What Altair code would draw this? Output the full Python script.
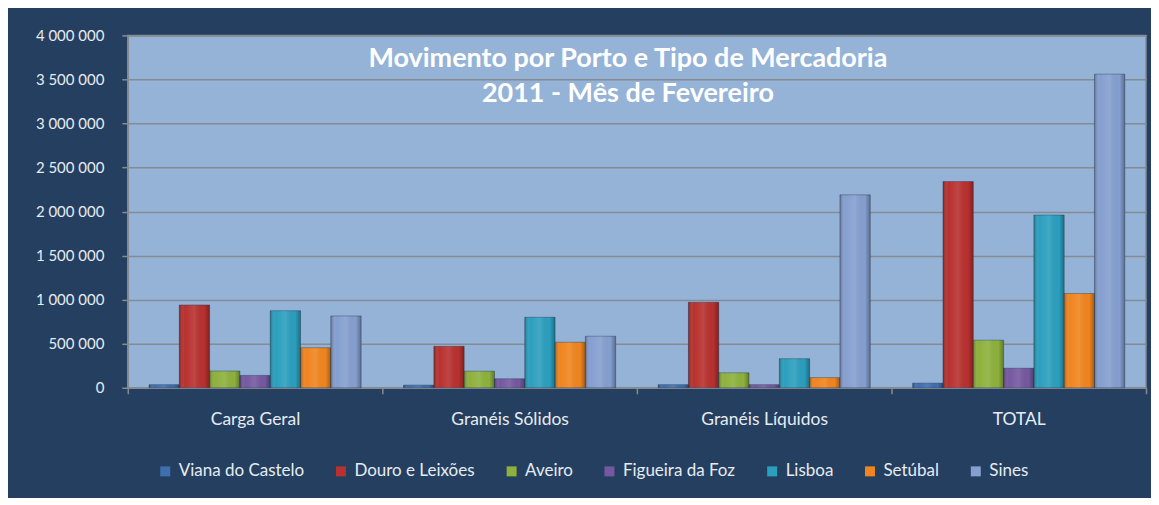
import altair as alt
import pandas as pd

categories = ["Carga Geral", "Granéis Sólidos", "Granéis Líquidos", "TOTAL"]
ports = ["Viana do Castelo", "Douro e Leixões", "Aveiro", "Figueira da Foz",
         "Lisboa", "Setúbal", "Sines"]
viana = [35000, 30000, 35000, 52000]
douro = [940000, 470000, 970000, 2340000]
aveiro = [190000, 188000, 170000, 540000]
figueira = [140000, 102000, 35000, 222000]
lisboa = [875000, 800000, 330000, 1960000]
setubal = [455000, 517000, 115000, 1070000]
sines = [815000, 585000, 2190000, 3560000]
colors = ["#3f6fae", "#b8312f", "#8db13c", "#7558a0", "#2b9fbe", "#f0851f", "#859fcf"]
y_ticks = [0, 500000, 1000000, 1500000, 2000000, 2500000, 3000000, 3500000, 4000000]
title_lines = ["Movimento por Porto e Tipo de Mercadoria", "2011 - Mês de Fevereiro"]

series = [viana, douro, aveiro, figueira, lisboa, setubal, sines]
rows = []
for p, vals in zip(ports, series):
    for c, v in zip(categories, vals):
        rows.append({"Categoria": c, "Porto": p, "Valor": v})
df = pd.DataFrame(rows)

FONT = "Lato"
LABEL = "#e6ecf2"
GRID = "#858b92"

x_enc = alt.X("Categoria:N", sort=categories, title=None,
              scale=alt.Scale(paddingInner=0, paddingOuter=0),
              axis=alt.Axis(labelAngle=0, labelColor=LABEL, labelFont=FONT, labelFontSize=17.5,
                            labelPadding=17, tickBand="extent", tickColor=GRID, tickSize=6,
                            domainColor=GRID, domainWidth=1.5, tickWidth=1.5, grid=False))
xo_enc = alt.XOffset("Porto:N", sort=ports,
                     scale=alt.Scale(domain=ports, paddingInner=0, paddingOuter=0.7))
y_enc = alt.Y("Valor:Q", title=None,
              scale=alt.Scale(domain=[0, 4000000], nice=False),
              axis=alt.Axis(values=y_ticks, labelColor=LABEL, labelFont=FONT, labelFontSize=15,
                            labelPadding=18, tickColor=GRID, tickSize=6, tickWidth=1.5,
                            domainColor=GRID, domainWidth=1.5, gridColor=GRID, gridWidth=1.5,
                            labelExpr="replace(format(datum.value, ',d'), /,/g, ' ')"))

base = alt.Chart(df).mark_bar(
    stroke="#1f3450", strokeOpacity=0.4, strokeWidth=1
).encode(
    x=x_enc, xOffset=xo_enc, y=y_enc,
    color=alt.Color("Porto:N", sort=ports,
                    scale=alt.Scale(domain=ports, range=colors),
                    legend=alt.Legend(title=None, orient="none", direction="horizontal",
                                      legendX=29, legendY=428, columnPadding=28,
                                      symbolType="square", symbolSize=100, symbolStrokeWidth=0,
                                      labelColor=LABEL, labelFont=FONT, labelFontSize=17,
                                      labelOffset=5, padding=0)),
)

shade = alt.Chart(df).mark_bar(
    fill=alt.Gradient(
        gradient="linear", x1=0, x2=1, y1=0, y2=0,
        stops=[alt.GradientStop(offset=0, color="rgba(0,0,0,0.28)"),
               alt.GradientStop(offset=0.18, color="rgba(255,255,255,0.0)"),
               alt.GradientStop(offset=0.5, color="rgba(255,255,255,0.10)"),
               alt.GradientStop(offset=0.82, color="rgba(0,0,0,0.0)"),
               alt.GradientStop(offset=1, color="rgba(0,0,0,0.30)")]),
).encode(x=x_enc, xOffset=xo_enc, y=y_enc)

chart = alt.layer(base, shade).properties(
    width=1020,
    height=353,
    padding={"left": 120, "top": 27, "right": 5, "bottom": 110},
    autosize=alt.AutoSizeParams(type="none"),
    title=alt.TitleParams(text=title_lines, color="white", font=FONT, fontSize=27,
                          fontWeight="bold", anchor="middle", offset=-80, lineHeight=35,
                          dx=-9, frame="group"),
).configure(
    background="#243f60"
).configure_view(
    fill="#95b3d7", stroke=GRID, strokeWidth=1.5
)

chart.save("out.html", embed_options={"renderer": "svg", "actions": False})
